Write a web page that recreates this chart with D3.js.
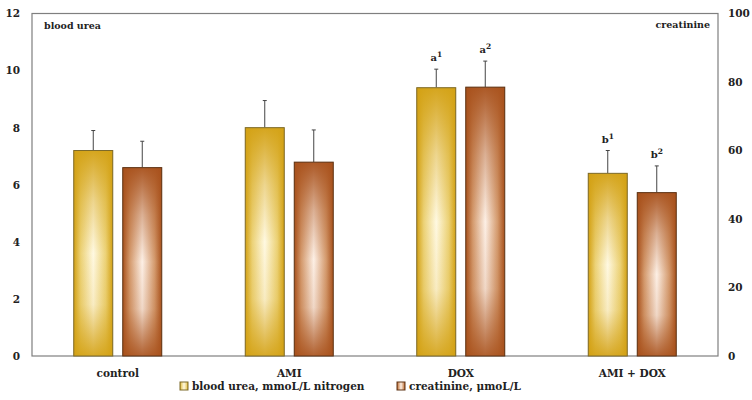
<!DOCTYPE html>
<html lang="en">
<meta charset="utf-8">
<head>
    <script src='https://d3js.org/d3.v7.min.js'></script>
    <style>
        body { margin: 0; background: #fff; }
        text { font-family: "DejaVu Serif", serif; font-weight: bold; fill: #222; }
    </style>
</head>
<body>
<div id="chart"></div>
<script>
// groups and values
const groups = ['control', 'AMI', 'DOX', 'AMI + DOX'];
const ureaMean = [7.2, 8.0, 9.4, 6.4];
const ureaErr = [0.7, 0.95, 0.65, 0.8];
const creatMean = [55, 56.6, 78.5, 47.7];
const creatErr = [7.7, 9.4, 7.6, 7.8];
const ureaMarks = ['', '', 'a', 'b'];
const creatMarks = ['', '', 'a', 'b'];
const leftTicks = [0, 2, 4, 6, 8, 10, 12];
const rightTicks = [0, 20, 40, 60, 80, 100];
const legendLabels = ['blood urea, mmoL/L nitrogen', 'creatinine, \u03bcmoL/L'];

const W = 752, H = 400;
const plotL = 32, plotR = 718, plotT = 13.5, plotB = 356;

const svg = d3.select('#chart').append('svg')
    .attr('width', W).attr('height', H);

// gradients: dark edges, light centre (like the "from centre" fill)
const defs = svg.append('defs');
function makeGrad(id, edge, mid, light) {
    const h = defs.append('linearGradient').attr('id', id + 'H')
        .attr('x1', 0).attr('x2', 1).attr('y1', 0).attr('y2', 0);
    h.append('stop').attr('offset', 0).attr('stop-color', edge);
    h.append('stop').attr('offset', 0.18).attr('stop-color', mid);
    h.append('stop').attr('offset', 0.5).attr('stop-color', light);
    h.append('stop').attr('offset', 0.82).attr('stop-color', mid);
    h.append('stop').attr('offset', 1).attr('stop-color', edge);
    const v = defs.append('linearGradient').attr('id', id + 'V')
        .attr('x1', 0).attr('x2', 0).attr('y1', 0).attr('y2', 1);
    v.append('stop').attr('offset', 0).attr('stop-color', edge).attr('stop-opacity', 0.95);
    v.append('stop').attr('offset', 0.25).attr('stop-color', edge).attr('stop-opacity', 0.4);
    v.append('stop').attr('offset', 0.5).attr('stop-color', edge).attr('stop-opacity', 0);
    v.append('stop').attr('offset', 0.75).attr('stop-color', edge).attr('stop-opacity', 0.15);
    v.append('stop').attr('offset', 1).attr('stop-color', edge).attr('stop-opacity', 0.9);
}
makeGrad('urea', '#d3a114', '#ecd277', '#fff9e2');
makeGrad('creat', '#a8511c', '#d49a6d', '#fdf0e6');

const x0 = d3.scaleBand().domain(groups).range([plotL, plotR]);
const yL = d3.scaleLinear().domain([0, 12]).range([plotB, plotT]);
const yR = d3.scaleLinear().domain([0, 100]).range([plotB, plotT]);

const barW = 39, gap = 10;

// frame
svg.append('rect')
    .attr('x', plotL).attr('y', plotT)
    .attr('width', plotR - plotL).attr('height', plotB - plotT)
    .attr('fill', 'none').attr('stroke', '#7f7f7f').attr('stroke-width', 1.2);

// axes (labels only)
const gl = svg.append('g').attr('transform', `translate(${plotL},0)`)
    .call(d3.axisLeft(yL).tickValues(leftTicks).tickSize(0).tickPadding(12));
const gr = svg.append('g').attr('transform', `translate(${plotR},0)`)
    .call(d3.axisRight(yR).tickValues(rightTicks).tickSize(0).tickPadding(10));
const gb = svg.append('g').attr('transform', `translate(0,${plotB})`)
    .call(d3.axisBottom(x0).tickSize(0).tickPadding(14));
[gl, gr, gb].forEach(g => {
    g.select('.domain').remove();
    g.selectAll('text').style('font-family', '"DejaVu Serif", serif')
        .style('font-weight', 'bold').style('font-size', '10.5px').attr('fill', '#222');
});
gb.selectAll('text').style('font-size', '10.5px');

function drawSeries(means, errs, scale, grad, border, xoff, marks, sup) {
    const g = svg.append('g');
    groups.forEach((c, i) => {
        const bx = x0(c) + x0.bandwidth() / 2 + xoff;
        const ytop = scale(means[i]);
        const ye = scale(means[i] + errs[i]);
        g.append('line').attr('x1', bx + barW / 2).attr('x2', bx + barW / 2)
            .attr('y1', ytop).attr('y2', ye).attr('stroke', '#444').attr('stroke-width', 1);
        g.append('line').attr('x1', bx + barW / 2 - 2).attr('x2', bx + barW / 2 + 2)
            .attr('y1', ye).attr('y2', ye).attr('stroke', '#444').attr('stroke-width', 1);
        g.append('rect').attr('x', bx).attr('y', ytop)
            .attr('width', barW).attr('height', plotB - ytop)
            .attr('fill', `url(#${grad}H)`);
        g.append('rect').attr('x', bx).attr('y', ytop)
            .attr('width', barW).attr('height', plotB - ytop)
            .attr('fill', `url(#${grad}V)`)
            .attr('stroke', border).attr('stroke-width', 1);
        if (marks[i]) {
            const t = g.append('text').attr('x', bx + barW / 2).attr('y', ye - 8)
                .attr('text-anchor', 'middle').style('font-size', '10px').text(marks[i]);
            t.append('tspan').attr('dy', -4).style('font-size', '7.5px').text(sup);
        }
    });
}
drawSeries(ureaMean, ureaErr, yL, 'urea', '#7d6a2a', -(barW + gap / 2), ureaMarks, '1');
drawSeries(creatMean, creatErr, yR, 'creat', '#5e3416', gap / 2, creatMarks, '2');

// corner titles
svg.append('text').attr('x', 44).attr('y', 29).style('font-size', '9.5px').text('blood urea');
svg.append('text').attr('x', 710).attr('y', 28).attr('text-anchor', 'end')
    .style('font-size', '9.5px').text('creatinine');

// legend
const legX = [180, 397];
const legGrad = ['urea', 'creat'];
const legBorder = ['#7d6a2a', '#5e3416'];
legendLabels.forEach((lab, i) => {
    svg.append('rect').attr('x', legX[i]).attr('y', 382).attr('width', 8).attr('height', 8)
        .attr('fill', `url(#${legGrad[i]}H)`).attr('stroke', legBorder[i]).attr('stroke-width', 1);
    svg.append('text').attr('x', legX[i] + 12).attr('y', 390)
        .style('font-size', '10.5px').text(lab);
});
</script>
</body>
</html>
